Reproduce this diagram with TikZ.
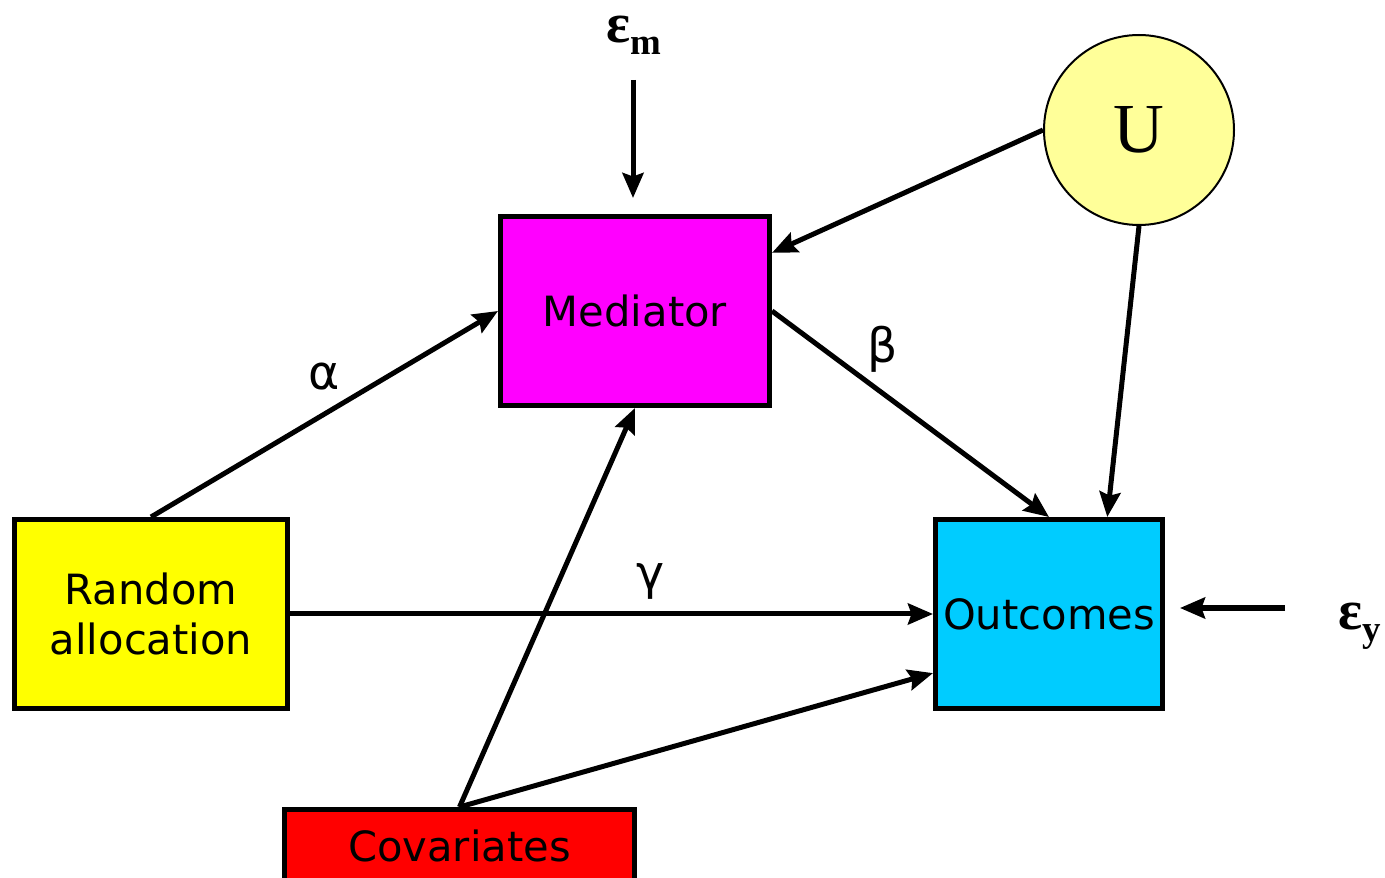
\documentclass[tikz,border=0pt]{standalone}
\usepackage{fontspec}
\setmainfont{DejaVu Sans}
\newfontfamily\serifgr{Liberation Serif}
\usepackage{tikz}
\usetikzlibrary{positioning,arrows.meta}
\definecolor{randcol}{HTML}{FFFF00}
\definecolor{medcol}{HTML}{FF00FF}
\definecolor{outcol}{HTML}{00CCFF}
\definecolor{covcol}{HTML}{FF0000}
\definecolor{ucol}{HTML}{FFFF99}

\begin{document}
\begin{tikzpicture}[node distance=1.5cm]
	\tikzstyle{box}=[rectangle,draw,line width=0.1cm,minimum height=3.78cm,align=center,font=\fontsize{23.7}{28.5}\selectfont]
	\tikzstyle{arr}=[line width=0.1cm,-{Stealth[length=0.5cm,width=0.42cm,inset=0.07cm]}]
	\tikzstyle{greek}=[inner sep=0pt,font=\fontsize{27}{30}\selectfont]
	\tikzstyle{eps}=[inner sep=0pt,font=\serifgr\bfseries\fontsize{32}{34}\selectfont]
	\useasboundingbox (0,0) rectangle (27.7,-17.56);
		\node[box, fill=randcol, minimum width=5.46cm] (rand) at (3.02,-12.28) {Random\\allocation};
		\node[box, fill=medcol, minimum width=5.38cm] (med) [above right=2.18cm and 4.16cm of rand] {Mediator};
		\node[box, fill=outcol, minimum width=4.54cm] (out) [right=12.86cm of rand] {Outcomes};
		\node[box, fill=covcol, minimum width=7.0cm, minimum height=1.46cm] (cov) [below right=1.92cm and -0.16cm of rand] {Covariates};
		\node[circle, draw, line width=0.04cm, fill=ucol, minimum size=3.8cm, font=\serifgr\fontsize{40}{40}\selectfont] (u) [above=5.82cm of out, xshift=1.8cm] {U};
		\node[eps] (epsm) at (12.68,-0.7) {ε\raisebox{-0.24cm}{\fontsize{21}{21}\selectfont m}};
		\node[eps] (epsy) at (27.2,-12.52) {ε\raisebox{-0.24cm}{\fontsize{21}{21}\selectfont y}};
		\coordinate (em) at (12.66,-1.6);
		\coordinate (ey) at (25.7,-12.16);
			\draw[arr, shorten >=0.32cm] (em) -- (em |- med.north);
			\draw[arr, shorten >=0.3cm] (ey) -- (ey -| out.east);
			\draw[arr] (rand.north) -- node[greek, midway, above=0.42cm] {α} (med.west);
			\draw[arr] (med.east) -- node[greek, pos=0.4, above=0.38cm] {β} (out.north);
			\draw[arr] (rand.east) -- node[greek, pos=0.56, above=0.24cm] {γ} (out.west);
			\draw[arr] (u.west) -- (med.23);
			\draw[arr] (u.south) -- (out.59);
			\draw[arr] (cov.north) -- (med.south);
			\draw[arr] (cov.north) -- (out.207);
\end{tikzpicture}
\end{document}
